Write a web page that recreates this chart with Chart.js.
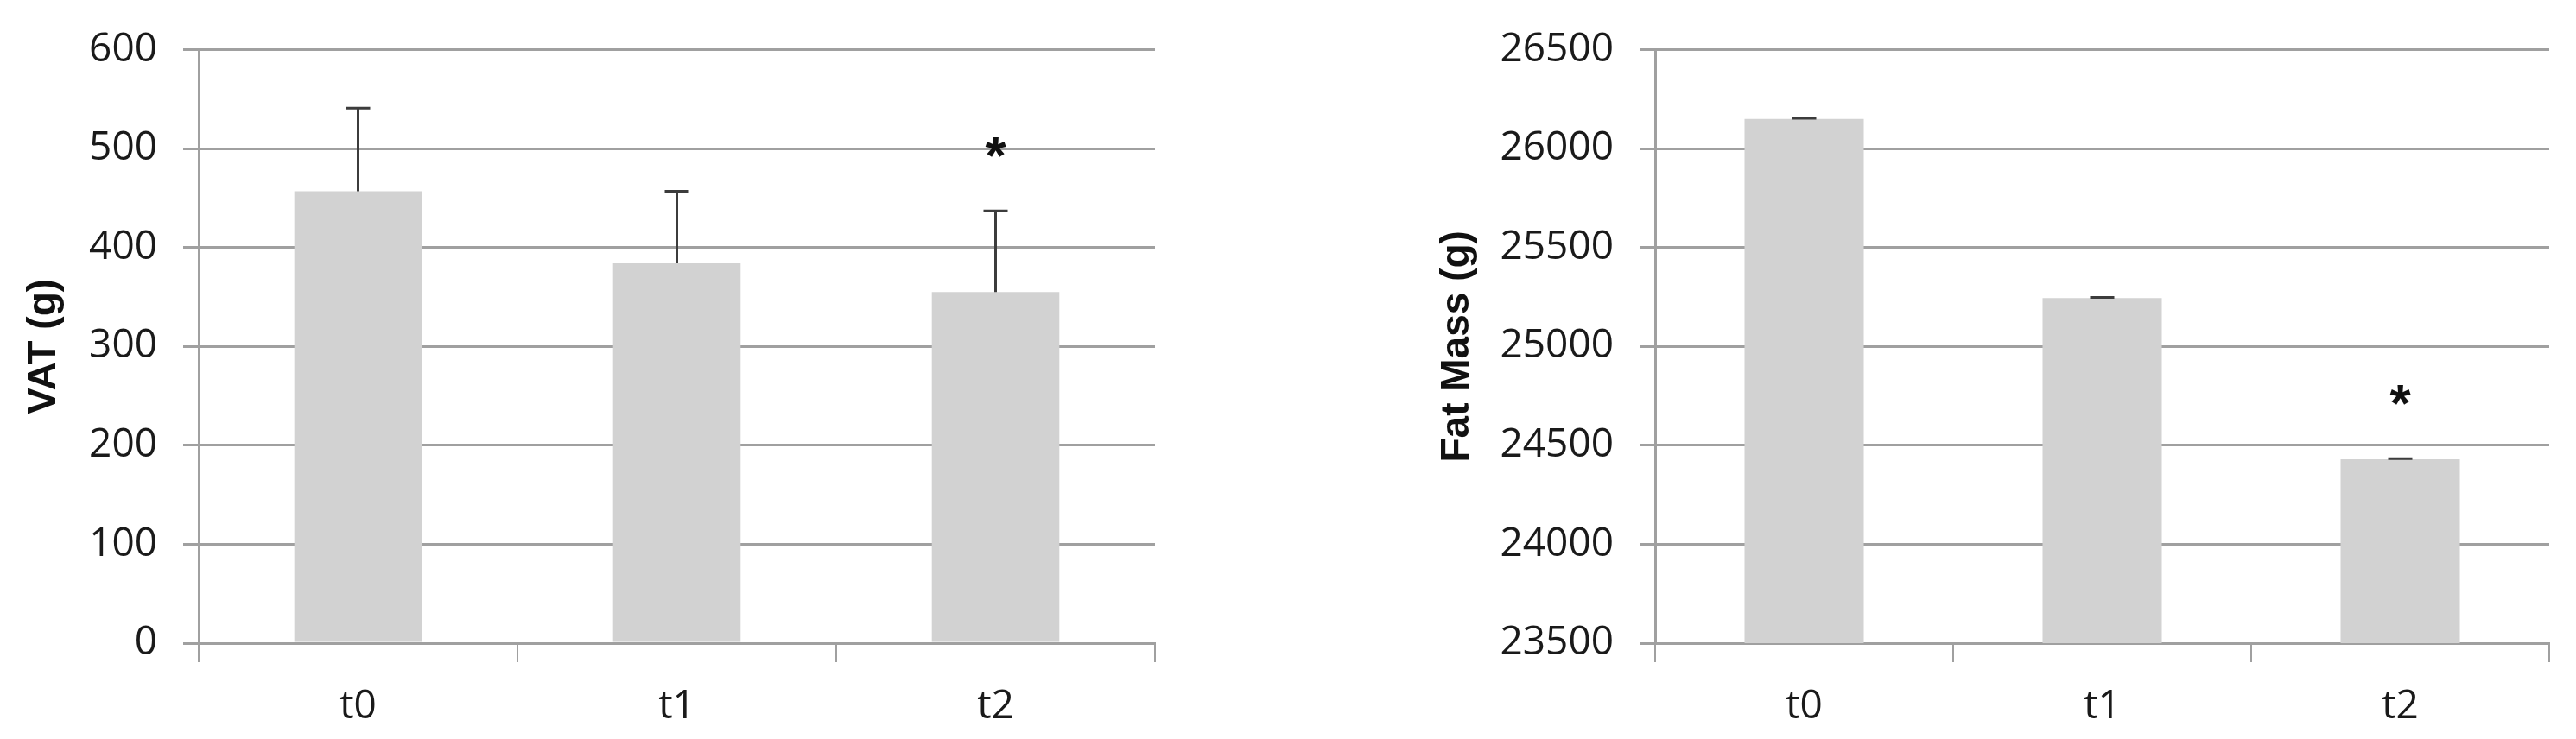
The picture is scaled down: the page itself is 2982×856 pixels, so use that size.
<!DOCTYPE html>
<html lang="en">
<head>
    <meta charset="UTF-8">
    <title>VAT and Fat Mass over time</title>
    <script src="https://cdn.jsdelivr.net/npm/chart.js"></script>
    <style>
        html, body { margin: 0; padding: 0; background: #fff; }
        body { width: 2982px; height: 856px; position: relative; overflow: hidden; }
        .box { position: absolute; top: 0; height: 856px; }
        #vatBox { left: 0; width: 1400px; }
        #fatBox { left: 1640px; width: 1342px; }
    </style>
</head>
<body>
    <div class="box" id="vatBox"><canvas id="vatChart"></canvas></div>
    <div class="box" id="fatBox"><canvas id="fatChart"></canvas></div>

    <script>
        // Data
        const timepoints = ["t0", "t1", "t2"];
        const vatValues = [457, 384, 355];
        const vatErrors = [84, 73, 82];
        const fatMassValues = [26150, 25245, 24430];
        const fatMassErrors = [3, 3, 3];
        const significance = ["", "", "*"];
        const vatAxis = { min: 0, max: 600, step: 100 };
        const fatAxis = { min: 23500, max: 26500, step: 500 };

        const GRID = "#a0a0a0";
        const BAR = "#d2d2d2";
        const INK = "#1a1a1a";

        Chart.defaults.font.family = "'Open Sans', sans-serif";
        Chart.defaults.color = INK;

        // error bars (upper only) + significance marks
        const errorBars = {
            id: "errorBars",
            afterDatasetsDraw(chart, args, opts) {
                const ctx = chart.ctx;
                const y = chart.scales.y;
                const ds = chart.data.datasets[0];
                const meta = chart.getDatasetMeta(0);
                ctx.save();
                ctx.strokeStyle = "#3c3c3c";
                ctx.lineWidth = 3;
                meta.data.forEach((bar, i) => {
                    const top = y.getPixelForValue(ds.data[i] + opts.errors[i]);
                    ctx.beginPath();
                    ctx.moveTo(bar.x, bar.y);
                    ctx.lineTo(bar.x, top);
                    ctx.moveTo(bar.x - 14, top);
                    ctx.lineTo(bar.x + 14, top);
                    ctx.stroke();
                    if (opts.marks[i]) {
                        ctx.font = "bold 62px 'Liberation Sans', sans-serif";
                        ctx.fillStyle = "#111";
                        ctx.textAlign = "center";
                        ctx.textBaseline = "alphabetic";
                        const m = ctx.measureText(opts.marks[i]);
                        const cy = top - 74;
                        const base = cy + (m.actualBoundingBoxAscent - m.actualBoundingBoxDescent) / 2;
                        ctx.fillText(opts.marks[i], bar.x, base);
                    }
                });
                ctx.restore();
            }
        };

        function makeChart(id, values, errors, axis, title, cfg) {
            return new Chart(document.getElementById(id), {
                type: "bar",
                data: {
                    labels: timepoints,
                    datasets: [{
                        data: values,
                        backgroundColor: BAR,
                        borderWidth: 0,
                        barPercentage: 0.4,
                        categoryPercentage: 1.0
                    }]
                },
                options: {
                    responsive: true,
                    maintainAspectRatio: false,
                    animation: false,
                    layout: { padding: { top: cfg.top, right: cfg.right, left: 0, bottom: 0 } },
                    plugins: {
                        legend: { display: false },
                        tooltip: { enabled: false },
                        errorBars: { errors: errors, marks: significance }
                    },
                    scales: {
                        x: {
                            grid: { offset: true, drawOnChartArea: false, tickLength: 22, color: GRID, lineWidth: 2 },
                            border: { color: GRID, width: 3 },
                            ticks: { font: { size: 46 }, padding: 24 },
                            afterFit(scale) { scale.height = 111; }
                        },
                        y: {
                            min: axis.min,
                            max: axis.max,
                            ticks: {
                                stepSize: axis.step,
                                font: { size: 46 },
                                padding: 30,
                                callback: (v) => String(v)
                            },
                            grid: { color: GRID, lineWidth: 3, tickLength: 18 },
                            border: { color: GRID, width: 3 },
                            title: {
                                display: true,
                                text: title,
                                font: { size: 46, weight: "bold", family: "'Liberation Sans', sans-serif" },
                                color: "#111",
                                padding: { top: cfg.titlePad, bottom: 0 }
                            },
                            afterFit(scale) { scale.width = cfg.axisWidth; }
                        }
                    }
                },
                plugins: [errorBars]
            });
        }

        makeChart("vatChart", vatValues, vatErrors, vatAxis, "VAT (g)",
            { top: 40, right: 63, axisWidth: 230, titlePad: 24 });
        makeChart("fatChart", fatMassValues, fatMassErrors, fatAxis, "Fat Mass (g)",
            { top: 30, right: 31, axisWidth: 276, titlePad: 20 });
    </script>
</body>
</html>
